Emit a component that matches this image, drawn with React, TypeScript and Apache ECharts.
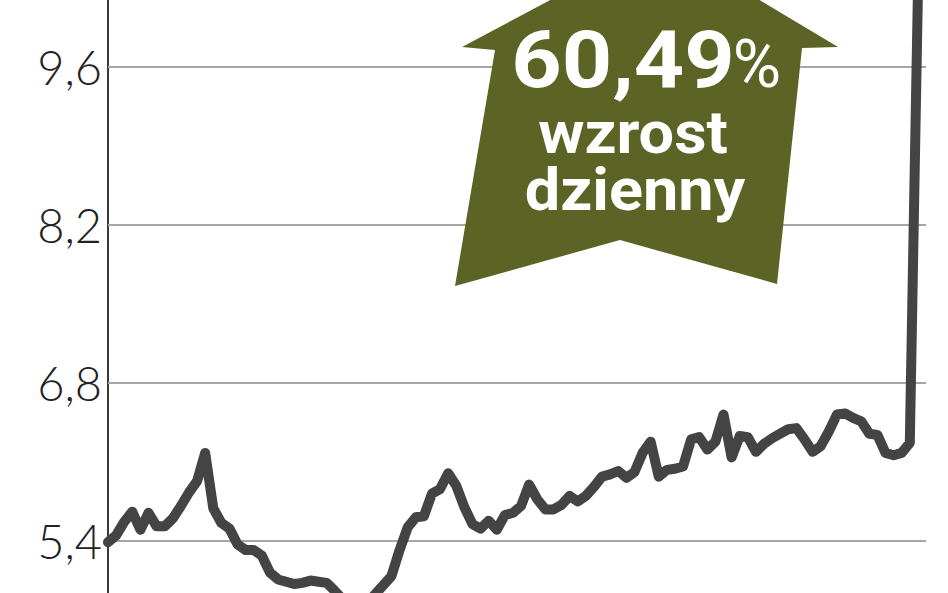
import React, { useEffect, useRef } from "react";
import * as echarts from "echarts";

// One value per trading day (PLN)
const prices: (number | null)[] = [
  5.39, 5.45, 5.57, 5.66, 5.50, 5.65, 5.53, 5.53, 5.60, 5.71,
  5.83, 5.93, 6.18, 5.69, 5.56, 5.51, 5.37, 5.32, 5.32, 5.27,
  5.12, 5.06, 5.04, 5.02, 5.03, 5.05, 5.04, 5.03, 4.96, 4.88,
  4.83, 4.82, 4.85, 4.93, 5.01, 5.09, 5.32, 5.52, 5.61, 5.62,
  5.82, 5.86, 6.00, 5.89, 5.70, 5.55, 5.51, 5.58, 5.50, 5.63,
  5.65, 5.71, 5.90, 5.77, 5.68, 5.68, 5.72, 5.80, 5.75, 5.80,
  5.88, 5.97, 5.99, 6.02, 5.96, 6.01, 6.18, 6.28, 5.97, 6.03,
  6.04, 6.06, 6.30, 6.32, 6.21, 6.28, 6.52, 6.14, 6.33, 6.32,
  6.19, 6.26, 6.31, 6.35, 6.39, 6.40, 6.30, 6.19, 6.24, 6.37,
  6.52, 6.53, 6.49, 6.46, 6.35, 6.34, 6.18, 6.16, 6.18, 6.27,
  10.25,
];

// trading-day slots (the last one is empty room after the final session)
const days: string[] = Array.from({ length: prices.length + 1 }, (_, i) => `d${i + 1}`);

const gridValues: number[] = [5.4, 6.8, 8.2, 9.6];

const headline = "60,49";
const percentSign = "%";
const line2 = "wzrost";
const line3 = "dzienny";

const fmt = (v: number) => v.toFixed(1).replace(".", ",");

export default function App() {
  const ref = useRef<HTMLDivElement>(null);
  useEffect(() => {
    document.body.style.margin = "0";
    if (!ref.current) return;
    const chart = echarts.init(ref.current, undefined, { renderer: "svg" });
    chart.setOption({
      animation: false,
      backgroundColor: "#ffffff",
      grid: { left: 108, right: 22, top: 0, bottom: 0, containLabel: false },
      xAxis: {
        type: "category",
        data: days,
        boundaryGap: false,
        show: false,
      },
      yAxis: {
        type: "value",
        min: 4.94,
        max: 10.19,
        axisLine: { show: true, lineStyle: { color: "#3a3a3a", width: 2 } },
        axisTick: { show: false },
        axisLabel: { show: false },
        splitLine: { show: false },
      },
      series: [
        {
          type: "line",
          data: prices,
          symbol: "none",
          z: 3,
          lineStyle: { color: "#444444", width: 10, join: "round", cap: "round" },
          markLine: {
            z: 1,
            silent: true,
            symbol: "none",
            lineStyle: { color: "#a6a6a6", width: 2, type: "solid" },
            label: {
              show: true,
              position: "start",
              distance: 6,
              formatter: (p: any) => fmt(p.value),
              fontFamily: "Lato, 'Liberation Sans', sans-serif",
              fontWeight: 300,
              fontSize: 47,
              color: "#222222",
            },
            data: gridValues.map((v) => ({ yAxis: v })),
          },
        },
      ],
      graphic: [
        {
          type: "polygon",
          z: 10,
          shape: {
            points: [
              [661, -59],
              [838, 47],
              [802, 48],
              [777, 284],
              [620, 240],
              [455, 286],
              [495, 50],
              [462, 47],
            ],
          },
          style: { fill: "#5b6424" },
        },
        {
          type: "text",
          z: 11,
          x: 623,
          y: 60,
          scaleX: 1.1,
          style: {
            text: headline,
            fill: "#ffffff",
            fontFamily: "Roboto, sans-serif",
            fontWeight: "bold",
            fontSize: 80,
            align: "center",
            verticalAlign: "middle",
          },
        },
        {
          type: "text",
          z: 11,
          x: 757,
          y: 64,
          style: {
            text: percentSign,
            fill: "#ffffff",
            fontFamily: "Roboto, sans-serif",
            fontSize: 66,
            align: "center",
            verticalAlign: "middle",
          },
        },
        {
          type: "text",
          z: 11,
          x: 633,
          y: 133,
          scaleX: 1.05,
          style: {
            text: line2,
            fill: "#ffffff",
            fontFamily: "Roboto, sans-serif",
            fontWeight: "bold",
            fontSize: 60,
            align: "center",
            verticalAlign: "middle",
          },
        },
        {
          type: "text",
          z: 11,
          x: 635,
          y: 190,
          scaleX: 1.05,
          style: {
            text: line3,
            fill: "#ffffff",
            fontFamily: "Roboto, sans-serif",
            fontWeight: "bold",
            fontSize: 60,
            align: "center",
            verticalAlign: "middle",
          },
        },
      ],
    });
    return () => chart.dispose();
  }, []);
  return (
    <div
      ref={ref}
      style={{ position: "absolute", left: 0, top: 0, width: 948, height: 593 }}
    />
  );
}
